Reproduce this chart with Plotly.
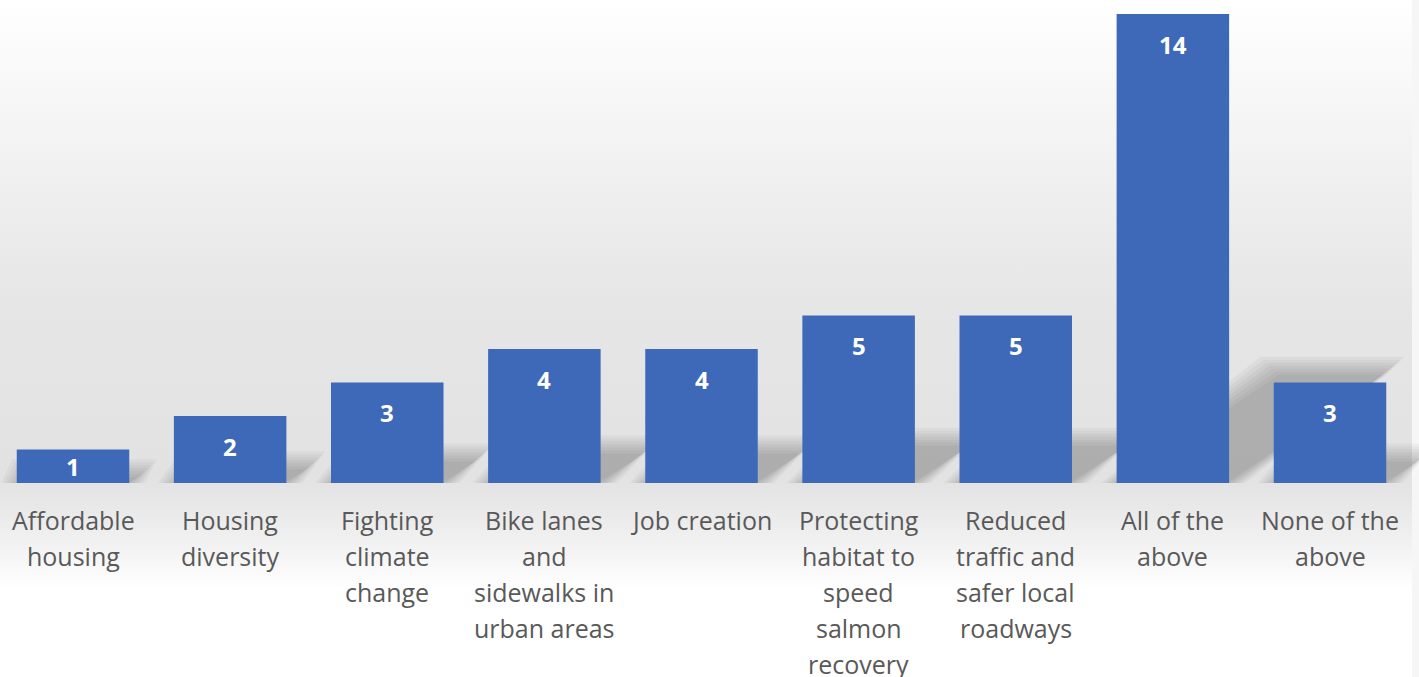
import base64
import plotly.graph_objects as go

# ---------------- data ----------------
categories = [
    "Affordable housing",
    "Housing diversity",
    "Fighting climate change",
    "Bike lanes and sidewalks in urban areas",
    "Job creation",
    "Protecting habitat to speed salmon recovery",
    "Reduced traffic and safer local roadways",
    "All of the above",
    "None of the above",
]
values = [1, 2, 3, 4, 4, 5, 5, 14, 3]
label_lines = [
    ["Affordable", "housing"],
    ["Housing", "diversity"],
    ["Fighting", "climate", "change"],
    ["Bike lanes", "and", "sidewalks in", "urban areas"],
    ["Job creation"],
    ["Protecting", "habitat to", "speed", "salmon", "recovery"],
    ["Reduced", "traffic and", "safer local", "roadways"],
    ["All of the", "above"],
    ["None of the", "above"],
]

# ---------------- layout constants ----------------
W, H = 1419, 677
M_T, M_B = 14, 194
PLOT_H = H - M_T - M_B
Y_MAX = 14
X_STEP_PX = 157.125
X_MIN = -73 / X_STEP_PX
X_MAX = X_MIN + W / X_STEP_PX
PX_Y = PLOT_H / Y_MAX  # px per y unit

BAR_COLOR = "#3D69B8"
LABEL_COLOR = "#595959"
FONT = "Open Sans"

# ---------------- background gradient (svg) ----------------
svg = f"""<svg xmlns='http://www.w3.org/2000/svg' width='{W}' height='{H}' viewBox='0 0 {W} {H}' preserveAspectRatio='none'>
<defs><linearGradient id='g' x1='0' y1='0' x2='0' y2='1'>
<stop offset='0' stop-color='#ffffff'/>
<stop offset='0.087' stop-color='#fafafa'/>
<stop offset='0.295' stop-color='#eeeeee'/>
<stop offset='0.443' stop-color='#e6e6e6'/>
<stop offset='0.70' stop-color='#e2e2e2'/>
<stop offset='0.735' stop-color='#e6e6e6'/>
<stop offset='0.80' stop-color='#f1f1f1'/>
<stop offset='0.87' stop-color='#ffffff'/>
<stop offset='1' stop-color='#ffffff'/>
</linearGradient></defs>
<rect x='0' y='0' width='1412' height='{H}' fill='url(#g)'/>
<rect x='1412' y='0' width='7' height='{H}' fill='#000000' fill-opacity='0.035'/>
</svg>"""
svg_uri = "data:image/svg+xml;base64," + base64.b64encode(svg.encode()).decode()

fig = go.Figure()

fig.add_trace(go.Bar(
    x=list(range(len(categories))),
    y=values,
    marker=dict(color=BAR_COLOR, line=dict(width=0)),
    hovertext=categories,
    hoverinfo="text+y",
    showlegend=False,
))

# ---------------- perspective shadows (derived from values) ----------------
BAR_W = 1 - 0.284
SH_K = 0.235   # shadow height / bar height
SH_S = 1.45    # horizontal shift per px of shadow height
shapes = []
for i, v in enumerate(values):
    h_px = SH_K * v * PX_Y
    d_px = SH_S * h_px
    x0 = i - BAR_W / 2
    x1 = i + BAR_W / 2
    for e in [16, 13, 10, 7, 4, 1, -2]:
        ex = e / X_STEP_PX
        dx = d_px / X_STEP_PX
        top = max(h_px + e, 1) / PX_Y
        path = (f"M {x0 - ex},0 L {x1 + ex},0 L {x1 + dx + ex},{top} "
                f"L {x0 + dx - ex},{top} Z")
        shapes.append(dict(type="path", path=path, xref="x", yref="y",
                           fillcolor="rgba(0,0,0,0.034)", line=dict(width=0),
                           layer="below"))

# ---------------- annotations ----------------
annotations = []
for i, v in enumerate(values):
    off = min(30, v * PX_Y / 2)
    annotations.append(dict(
        x=i, y=v, xref="x", yref="y", text=f"<b>{v}</b>", showarrow=False,
        yanchor="middle", yshift=-off,
        font=dict(family=FONT, size=24, color="#ffffff"),
    ))
for i, lines in enumerate(label_lines):
    for j, line in enumerate(lines):
        annotations.append(dict(
            x=i, y=0, xref="x", yref="paper", text=line, showarrow=False,
            yanchor="middle", yshift=-37 - 36 * j,
            font=dict(family=FONT, size=25, color=LABEL_COLOR),
        ))

fig.update_layout(
    width=W, height=H,
    margin=dict(l=0, r=0, t=M_T, b=M_B, pad=0),
    paper_bgcolor="#ffffff",
    plot_bgcolor="rgba(0,0,0,0)",
    bargap=0.284,
    xaxis=dict(range=[X_MIN, X_MAX], showticklabels=False, showgrid=False,
               zeroline=False, showline=False, ticks="", fixedrange=True),
    yaxis=dict(range=[0, Y_MAX], visible=False, showgrid=False,
               zeroline=False, fixedrange=True),
    shapes=shapes,
    annotations=annotations,
    images=[dict(source=svg_uri, xref="paper", yref="paper",
                 x=0, y=1 + M_T / PLOT_H, sizex=1, sizey=H / PLOT_H,
                 xanchor="left", yanchor="top", sizing="stretch",
                 layer="below")],
    showlegend=False,
)

fig.write_html(
    "out.html",
    config={"displayModeBar": False},
    post_script="document.body.style.margin='0px';document.body.style.overflow='hidden';",
)
